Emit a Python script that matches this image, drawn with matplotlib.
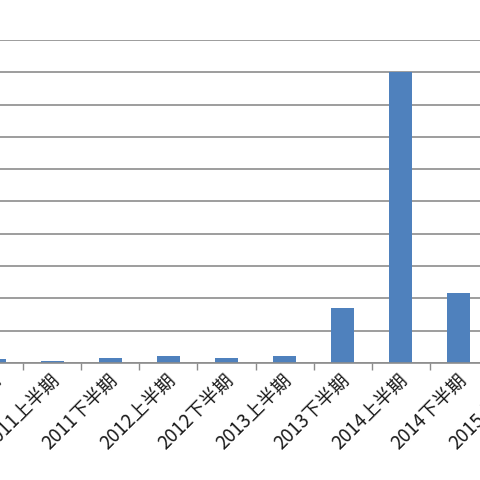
import matplotlib
matplotlib.use("Agg")
import matplotlib.pyplot as plt
import matplotlib.transforms as mtransforms

categories = ["2010下半期", "2011上半期", "2011下半期", "2012上半期", "2012下半期",
              "2013上半期", "2013下半期", "2014上半期", "2014下半期", "2015上半期"]
values = [0.12, 0.07, 0.17, 0.22, 0.17, 0.22, 1.7, 9.0, 2.17, 1.0]
y_ticks = [0, 1, 2, 3, 4, 5, 6, 7, 8, 9, 10]

plt.rcParams['font.family'] = ['Noto Sans CJK JP', 'DejaVu Sans']

fig = plt.figure(figsize=(4.8, 4.8), dpi=100)
W, H = 480.0, 480.0
left_px, right_px = -35.0, 546.0
top_px, bottom_px = 40.0, 363.0
ax = fig.add_axes([left_px / W, 1 - bottom_px / H, (right_px - left_px) / W, (bottom_px - top_px) / H])

x = list(range(len(categories)))
ax.bar(x, values, width=0.4, color="#4F81BD", zorder=3)

ax.set_xlim(-0.5, len(categories) - 0.5)
ax.set_ylim(y_ticks[0], y_ticks[-1])
ax.set_yticks(y_ticks)
ax.yaxis.grid(True, color="#8C8C8C", linewidth=1.2)
ax.set_axisbelow(True)
ax.tick_params(axis='y', length=0, labelleft=False)

for s in ["top", "right", "left"]:
    ax.spines[s].set_visible(False)
ax.spines["bottom"].set_color("#8C8C8C")
ax.spines["bottom"].set_linewidth(1.2)
ax.spines["bottom"].set_zorder(4)

bounds = [i - 0.5 for i in range(len(categories) + 1)]
ax.set_xticks(bounds)
ax.set_xticklabels([])
ax.tick_params(axis='x', which='major', length=5, width=1.0, color="#8C8C8C", direction='out')

ax.set_xticks(x, categories, minor=True)
ax.tick_params(axis='x', which='minor', length=0, pad=5, labelsize=13.5, labelcolor="#1a1a1a")
offset = mtransforms.ScaledTranslation(-3 / 100.0, 0, fig.dpi_scale_trans)
for lab in ax.get_xticklabels(minor=True):
    lab.set_rotation(45)
    lab.set_ha('right')
    lab.set_rotation_mode('anchor')
    lab.set_transform(lab.get_transform() + offset)

fig.savefig("out.png", dpi=100)
